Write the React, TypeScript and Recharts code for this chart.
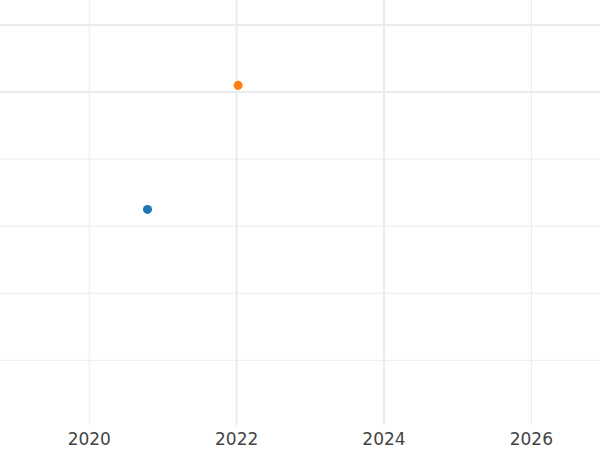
import {
  ScatterChart,
  Scatter,
  XAxis,
  YAxis,
  ZAxis,
  ReferenceLine,
} from "recharts";

// values
const blueYears = [2020.79];
const blueValues = [3.25];
const orangeYears = [2022.02];
const orangeValues = [5.1];

const xTicks = [2020, 2022, 2024, 2026];
const yTicks = [1, 2, 3, 4, 5, 6];
const majorX = [2022, 2024];
const majorY = [5, 6];

const toPoints = (xs: number[], ys: number[]) =>
  xs.map((x, i) => ({ x, y: ys[i] }));

const blueData = toPoints(blueYears, blueValues);
const orangeData = toPoints(orangeYears, orangeValues);

const gridColor = "#ebebeb";

export default function App() {
  return (
    <div style={{ position: "absolute", left: 0, top: 0 }}>
      <ScatterChart
        width={600}
        height={450}
        margin={{ top: 0, right: 0, bottom: 0, left: 0 }}
      >
        <XAxis
          type="number"
          dataKey="x"
          domain={[2018.788, 2026.932]}
          ticks={xTicks}
          axisLine={false}
          tickLine={false}
          height={25}
          allowDataOverflow
          tick={{ fontSize: 17, fill: "#444", fontFamily: "DejaVu Sans" }}
        />
        <YAxis
          type="number"
          dataKey="y"
          domain={[0.035, 6.373]}
          ticks={yTicks}
          hide
          allowDataOverflow
        />
        <ZAxis range={[64, 64]} />
        {xTicks.map((v) => (
          <ReferenceLine
            key={`x${v}`}
            x={v}
            stroke={gridColor}
            strokeWidth={majorX.includes(v) ? 2 : 1}
          />
        ))}
        {yTicks.map((v) => (
          <ReferenceLine
            key={`y${v}`}
            y={v}
            stroke={gridColor}
            strokeWidth={majorY.includes(v) ? 2 : 1}
          />
        ))}
        <Scatter data={blueData} fill="#1f77b4" isAnimationActive={false} />
        <Scatter data={orangeData} fill="#ff7f0e" isAnimationActive={false} />
      </ScatterChart>
    </div>
  );
}
